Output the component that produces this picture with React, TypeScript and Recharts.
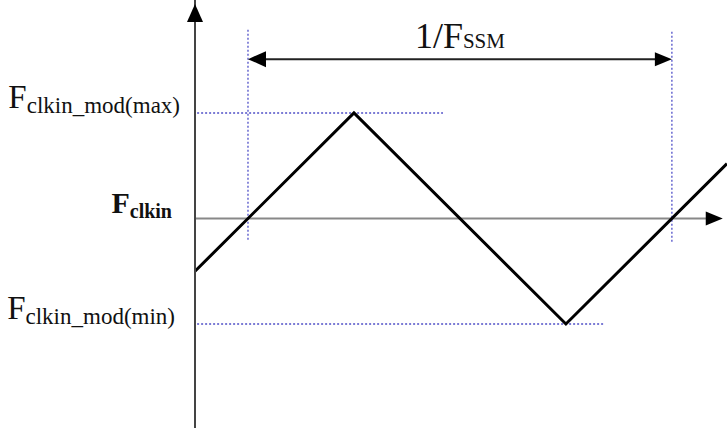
import React from 'react';
import {
  ComposedChart,
  Line,
  XAxis,
  YAxis,
  ReferenceLine,
  ReferenceDot,
  Scatter,
} from 'recharts';

// Triangle modulation waveform (time in units of 1/F_SSM, frequency offset normalised)
const waveTime = [-0.125, 0.25, 0.75, 1.13];
const waveFreq = [-0.5, 1, -1, 0.52];

// Y-axis tick levels and their labels
const yTicks = [1, 0, -1];
const yTickMain = ['F', 'F', 'F'];
const yTickSub = ['clkin_mod(max)', 'clkin', 'clkin_mod(min)'];

// Period annotation
const periodStart = 0;
const periodEnd = 1;
const periodLevel = 1.51;
const periodMain = '1/F';
const periodSub = 'SSM';

// Guide (dotted) lines
const maxGuideEnd = 0.46;
const minGuideEnd = 0.84;
const guideStartT = -0.12;
const leftGuideTop = 1.79;
const rightGuideTop = 1.77;
const guideBottom = -0.22;

// Axis extents
const xDomain: [number, number] = [-0.125, 1.13];
const yDomain: [number, number] = [-1.986, 2.071];
const hAxisEnd = 1.1;
const hAxisTip = 1.12;
const vAxisTip = 2.033;

const waveData = waveTime.map((t, i) => ({ t, f: waveFreq[i] }));

const arrowData = [
  { t: xDomain[0], v: vAxisTip, dir: 'up' },
  { t: hAxisTip, v: 0, dir: 'right' },
  { t: periodStart, v: periodLevel, dir: 'left' },
  { t: periodEnd, v: periodLevel, dir: 'right' },
];

const FONT = '"Liberation Serif", "DejaVu Serif", serif';
const GUIDE = '#5050c8';

const ArrowHead = (props: any) => {
  const { cx, cy, payload } = props;
  const dir = payload.dir;
  let pts = '';
  if (dir === 'up') {
    pts = `${cx},${cy} ${cx - 8},${cy + 18} ${cx + 8},${cy + 18}`;
  } else if (dir === 'right') {
    pts = `${cx},${cy} ${cx - 17},${cy - 7} ${cx - 17},${cy + 7}`;
  } else {
    pts = `${cx},${cy} ${cx + 18},${cy - 8} ${cx + 18},${cy + 8}`;
  }
  return <polygon points={pts} fill="#000" stroke="none" />;
};

const YTick = (props: any) => {
  const { x, y, payload } = props;
  const idx = yTicks.indexOf(payload.value);
  if (idx < 0) return null;
  const isMid = idx === 1;
  const offs = [0, -8, -5];
  return (
    <text
      x={x + offs[idx]}
      y={y}
      textAnchor="end"
      fontFamily={FONT}
      fill="#111"
      fontWeight={isMid ? 'bold' : 'normal'}
    >
      <tspan fontSize={isMid ? 30 : 33} dy={-5}>
        {yTickMain[idx]}
      </tspan>
      <tspan fontSize={isMid ? 20 : 23} dy={5}>
        {yTickSub[idx]}
      </tspan>
    </text>
  );
};

const PeriodLabel = (props: any) => {
  const { cx, cy } = props;
  return (
    <text x={cx} y={cy - 11} textAnchor="middle" fontFamily={FONT} fill="#111">
      <tspan fontSize={36}>{periodMain}</tspan>
      <tspan fontSize={21}>{periodSub}</tspan>
    </text>
  );
};

export default function App() {
  return (
    <div style={{ position: 'absolute', left: 0, top: 0, background: '#fff' }}>
      <ComposedChart
        width={727}
        height={428}
        margin={{ top: 0, right: 0, bottom: 0, left: 0 }}
      >
        <XAxis type="number" dataKey="t" domain={xDomain} hide />
        <YAxis
          type="number"
          domain={yDomain}
          ticks={yTicks}
          width={195}
          tickLine={false}
          tickSize={0}
          tickMargin={15}
          axisLine={{ stroke: '#444', strokeWidth: 2 }}
          tick={<YTick />}
          interval={0}
        />
        {/* horizontal time axis */}
        <ReferenceLine
          segment={[
            { x: xDomain[0], y: 0 },
            { x: hAxisEnd, y: 0 },
          ]}
          stroke="#888"
          strokeWidth={2}
          ifOverflow="visible"
        />
        {/* dotted guides */}
        <ReferenceLine
          segment={[
            { x: guideStartT, y: 1 },
            { x: maxGuideEnd, y: 1 },
          ]}
          stroke={GUIDE}
          strokeWidth={1.3}
          strokeDasharray="2 2"
          ifOverflow="visible"
        />
        <ReferenceLine
          segment={[
            { x: guideStartT, y: -1 },
            { x: minGuideEnd, y: -1 },
          ]}
          stroke={GUIDE}
          strokeWidth={1.3}
          strokeDasharray="2 2"
          ifOverflow="visible"
        />
        <ReferenceLine
          segment={[
            { x: periodStart, y: leftGuideTop },
            { x: periodStart, y: guideBottom },
          ]}
          stroke={GUIDE}
          strokeWidth={1.3}
          strokeDasharray="2 2"
          ifOverflow="visible"
        />
        <ReferenceLine
          segment={[
            { x: periodEnd, y: rightGuideTop },
            { x: periodEnd, y: guideBottom },
          ]}
          stroke={GUIDE}
          strokeWidth={1.3}
          strokeDasharray="2 2"
          ifOverflow="visible"
        />
        {/* period double arrow */}
        <ReferenceLine
          segment={[
            { x: periodStart + 0.02, y: periodLevel },
            { x: periodEnd - 0.02, y: periodLevel },
          ]}
          stroke="#222"
          strokeWidth={2}
          ifOverflow="visible"
        />
        <Line
          data={waveData}
          dataKey="f"
          type="linear"
          stroke="#000"
          strokeWidth={3}
          strokeLinejoin="miter"
          dot={false}
          activeDot={false}
          isAnimationActive={false}
        />
        <Scatter
          data={arrowData}
          dataKey="v"
          shape={<ArrowHead />}
          isAnimationActive={false}
        />
        <ReferenceDot
          x={(periodStart + periodEnd) / 2}
          y={periodLevel}
          r={0}
          ifOverflow="visible"
          shape={<PeriodLabel />}
        />
      </ComposedChart>
    </div>
  );
}
